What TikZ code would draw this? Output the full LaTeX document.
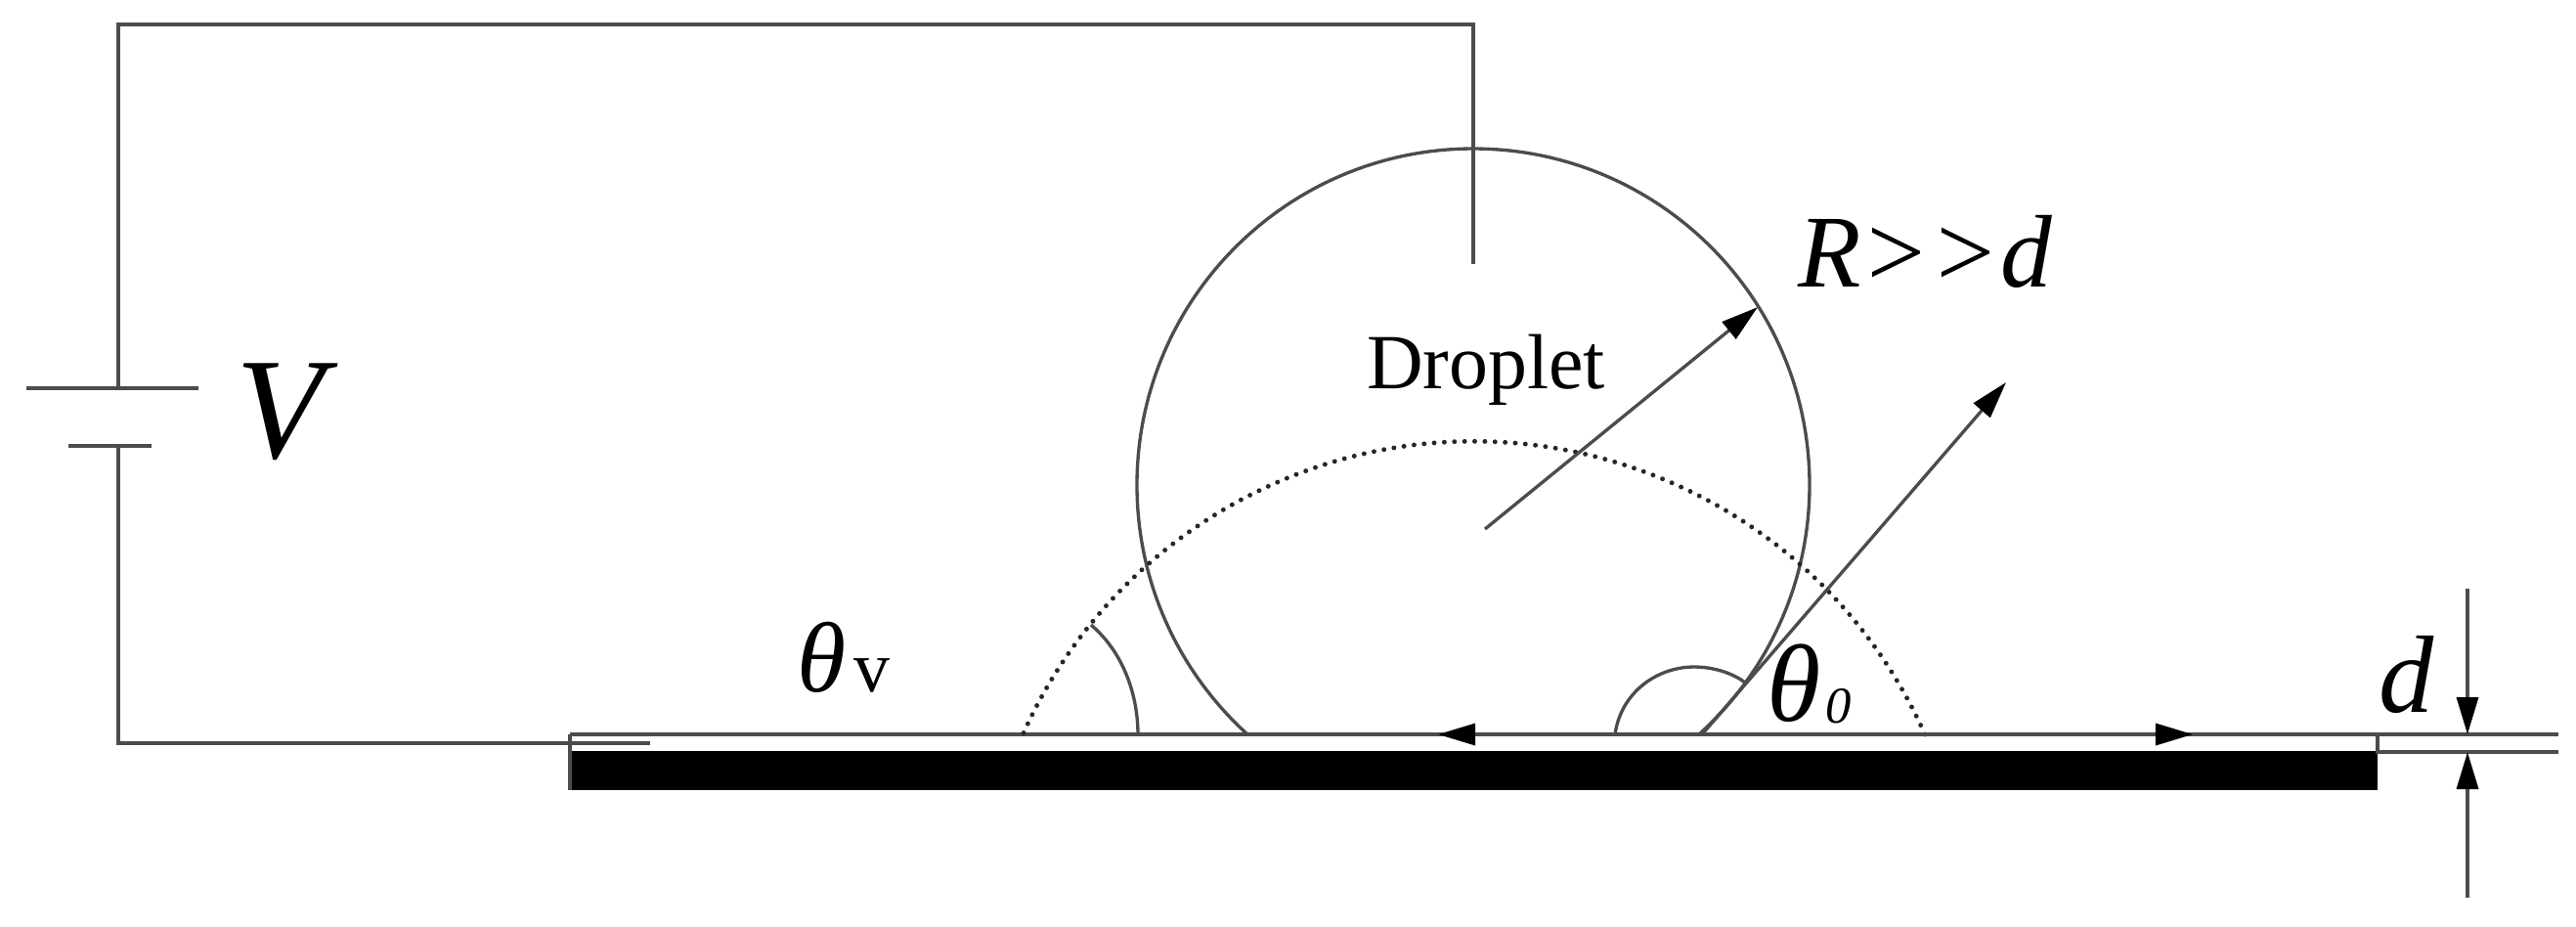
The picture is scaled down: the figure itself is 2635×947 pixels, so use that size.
\documentclass[tikz,border=0pt]{standalone}
\usepackage{fontspec}
\setmainfont{Liberation Serif}
\usetikzlibrary{arrows.meta}
\tikzset{
  wire/.style={draw=black!70,line width=0.95pt},
  dimarrow/.style={wire,-{Triangle[length=0.38cm,width=0.22cm,color=black]}},
  dots/.style={draw=black!85,line width=1.4pt,line cap=round,dash pattern=on 0pt off 2.95pt},
  lbl/.style={inner sep=0pt,outer sep=0pt,text=black}
}
\begin{document}
\begin{tikzpicture}[x=0.01cm,y=-0.01cm]
\useasboundingbox (0,0) rectangle (2635,947);
\fill[white] (0,0) rectangle (2635,947);
% coordinates
\coordinate (batTop) at (121,397);
\coordinate (batBot) at (121,456);
\coordinate (cornerTL) at (121,25);
\coordinate (cornerTR) at (1507,25);
\coordinate (elec) at (1507,270);
\coordinate (cornerBL) at (121,760);
\coordinate (wireEnd) at (665,760);
\coordinate (plateAL) at (27,397);
\coordinate (plateAR) at (203,397);
\coordinate (plateBL) at (70,456);
\coordinate (plateBR) at (155,456);
\coordinate (dropC) at (1507,496);
\coordinate (radS) at (1519,541);
\coordinate (radE) at (1798,314);
\coordinate (tanS) at (1741,751);
\coordinate (tanE) at (2052,391);
\coordinate (lineL) at (583,751);
\coordinate (lineR) at (2617,751);
\coordinate (lowL) at (2432,769);
\coordinate (lowR) at (2617,769);
\coordinate (midLeft) at (1471,751);
\coordinate (midRight) at (2243,751);
\coordinate (dimTop) at (2524,602);
\coordinate (dimTopTip) at (2524,751);
\coordinate (dimBot) at (2524,918);
\coordinate (dimBotTip) at (2524,769);
% substrate
\fill[black] (583,768) rectangle (2432,808);
\draw[wire] (lineL) -- (lineR);
\draw[wire] (lineL) -- (583,808);
\draw[wire] (2432,751) -- (lowL) -- (lowR);
\draw[wire] (2505,769) -- (dimBotTip);
% circuit
\draw[wire] (batTop) -- (cornerTL) -- (cornerTR) -- (elec);
\draw[wire] (batBot) -- (cornerBL) -- (wireEnd);
\draw[wire] (plateAL) -- (plateAR);
\draw[wire] (plateBL) -- (plateBR);
% droplet
\begin{scope}
\clip (0,0) rectangle (2635,751);
\draw[wire] (dropC) circle [radius=344];
\end{scope}
\draw[dots] (1969,751) arc [start angle=-24,end angle=-156,radius=505];
% arcs
\draw[wire] (1116,639) .. controls (1150,668) and (1164,712) .. (1164,751);
\draw[wire] (1652,751) .. controls (1658,708) and (1695,682) .. (1733,682) .. controls (1752,682) and (1772,688) .. (1785,698);
% arrows
\draw[dimarrow] (radS) -- (radE);
\draw[dimarrow] (tanS) -- (tanE);
\draw[dimarrow] (tanS) -- (midLeft);
\draw[dimarrow] (tanS) -- (midRight);
\draw[dimarrow] (dimTop) -- (dimTopTip);
\draw[dimarrow] (dimBot) -- (dimBotTip);
% labels
\node[lbl] (lblV) at (287,421) {\fontsize{42}{42}\selectfont\itshape V};
\node[lbl] (lblR) at (1969,257) {\fontsize{30}{30}\selectfont\itshape R>{}>d};
\node[lbl] (lblDrop) at (1520,378) {\fontsize{22.7}{23}\selectfont Droplet};
\node[lbl] (lblTv) at (841,672) {\fontsize{29}{29}\selectfont\itshape θ};
\node[lbl] (lblTvS) at (892,691) {\fontsize{21}{21}\selectfont v};
\node[lbl] (lblT0) at (1835,699) {\fontsize{32}{32}\selectfont\itshape θ};
\node[lbl] (lblT0S) at (1881,722) {\fontsize{15}{15}\selectfont\itshape 0};
\node[lbl] (lbld) at (2462,690) {\fontsize{32}{32}\selectfont\itshape d};
\end{tikzpicture}
\end{document}
